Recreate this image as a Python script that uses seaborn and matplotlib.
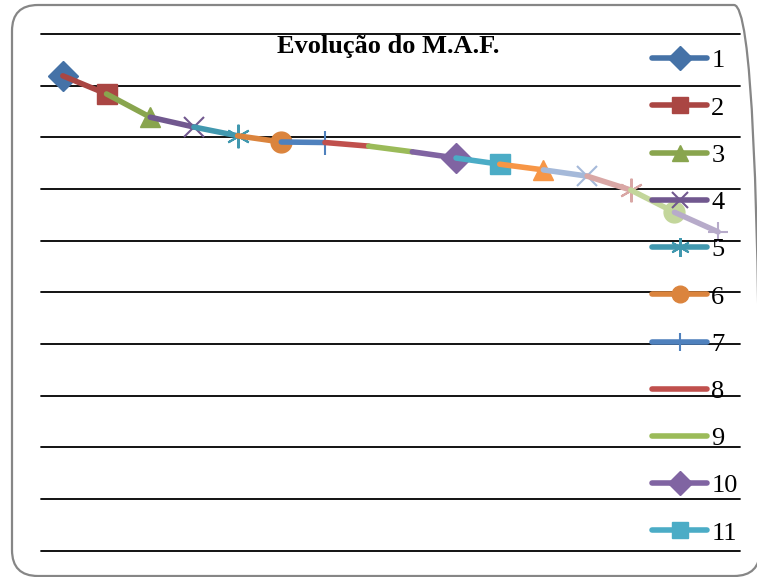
import matplotlib
matplotlib.use("Agg")
import matplotlib.pyplot as plt
import seaborn as sns
import pandas as pd
from matplotlib.patches import FancyBboxPatch

# values (gridlines at 0..10, no tick labels shown)
points = list(range(1, 17))
maf = [9.19, 8.84, 8.39, 8.20, 8.03, 7.91, 7.90, 7.83,
       7.72, 7.60, 7.48, 7.37, 7.25, 6.98, 6.55, 6.17]
series_labels = [str(i) for i in points]

colors = ["#4572A7", "#AA4643", "#89A54E", "#71588F", "#4198AF", "#DB843D",
          "#4F81BD", "#C0504D", "#9BBB59", "#8064A2", "#4BACC6", "#F79646",
          "#A5B9D9", "#D9A7A5", "#C3D69B", "#B7ABCA"]
star = (6, 2, 0)
markers = ["D", "s", "^", "x", star, "o", "+", "_",
           "_", "D", "s", "^", "x", star, "o", "+"]
msizes = [15, 15, 15, 14, 17, 15, 17, 10, 10, 15, 15, 15, 14, 17, 15, 14]

sns.set_style("white")
plt.rcParams["font.family"] = ["Liberation Serif", "DejaVu Serif"]
plt.rcParams["text.color"] = "black"

fig = plt.figure(figsize=(7.57, 5.77), dpi=100)
ax = fig.add_axes([41 / 757, 1 - 550.7 / 577, 699 / 757, 516.7 / 577])

# each series is one segment ending at its own point, marker on the end point
for i in range(len(points)):
    lo = max(i - 1, 0)
    seg = pd.DataFrame({"x": points[lo:i + 1], "y": maf[lo:i + 1]})
    mew = 1.5 if markers[i] in ("x", "+", star) else 1
    sns.lineplot(data=seg, x="x", y="y", ax=ax, color=colors[i], linewidth=4,
                 marker=markers[i], markersize=msizes[i],
                 markevery=[len(seg) - 1], markeredgewidth=mew,
                 markeredgecolor=colors[i], label=series_labels[i],
                 solid_capstyle="round", zorder=3)

ax.set_xlim(0.5, 16.5)
ax.set_ylim(0, 10)
ax.set_yticks(range(0, 11))
ax.set_xticks([])
ax.set_yticklabels([])
ax.set_xlabel("")
ax.set_ylabel("")
ax.tick_params(left=False, bottom=False)
for s in ax.spines.values():
    s.set_visible(False)
ax.grid(axis="y", color="black", lw=1.3)
for gl in ax.get_ygridlines():
    gl.set_clip_on(False)

handles, labels = ax.get_legend_handles_labels()
leg = ax.legend(handles[:11], labels[:11], loc="upper left",
                bbox_to_anchor=(652 / 757, 1 - 49 / 577),
                bbox_transform=fig.transFigure, frameon=False,
                fontsize=19, handlelength=2.1, handletextpad=0.15,
                labelspacing=0.9, borderaxespad=0, borderpad=0,
                markerscale=0.8, labelcolor="black")
leg.set_zorder(5)

fig.text(388 / 757, 1 - 47 / 577, "Evolução do M.A.F.", ha="center",
         va="center", fontsize=19, fontweight="bold", color="black")

border = FancyBboxPatch((12, 1), 748, 571,
                        boxstyle="round,pad=0,rounding_size=26",
                        transform=None, fill=False, edgecolor="#868686", lw=1.6)
fig.patches.append(border)

fig.savefig("out.png", dpi=100)
